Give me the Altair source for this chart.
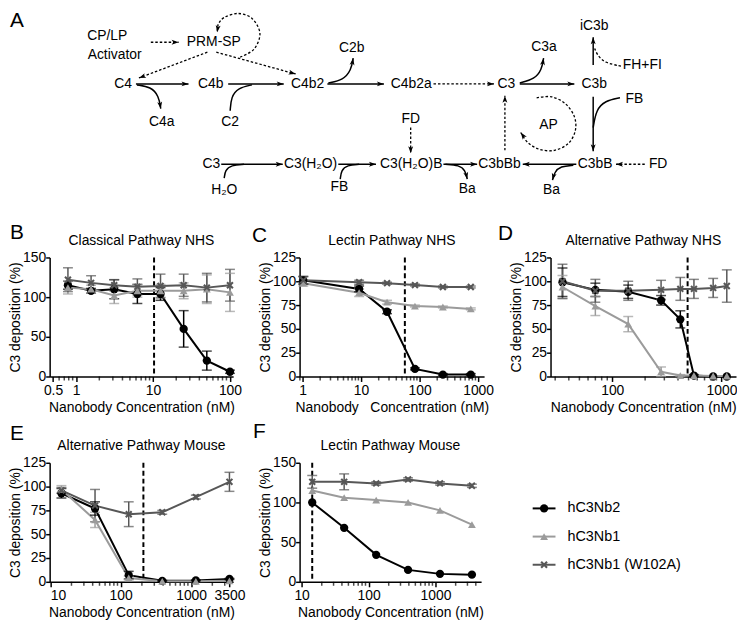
import math
import altair as alt
import pandas as pd

FONT = "Liberation Sans"
INK = "#000000"

# ---------------- series styling ----------------
SERIES = ["hC3Nb2", "hC3Nb1", "hC3Nb1 (W102A)"]
SERIES_COLORS = ["#000000", "#9b9b9b", "#575757"]
X_MARK = "M-1,-0.6L-0.6,-1L0,-0.4L0.6,-1L1,-0.6L0.4,0L1,0.6L0.6,1L0,0.4L-0.6,1L-1,0.6L-0.4,0Z"
SERIES_SHAPES = ["circle", "triangle-up", X_MARK]
SERIES_SIZES = [70, 55, 90]

# ---------------- panel data ----------------
B_X = [0.78125, 1.5625, 3.125, 6.25, 12.5, 25, 50, 100]
B_NB2 = [115, 108, 110, 104, 104, 60, 20, 6]
B_NB2_ERR = [5, 3, 12, 12, 8, 23, 12, 2]
B_NB1 = [112, 110, 102, 108, 108, 108, 110, 106]
B_NB1_ERR = [8, 5, 10, 8, 8, 10, 18, 24]
B_W = [122, 118, 115, 113, 114, 115, 112, 115]
B_W_ERR = [15, 9, 7, 10, 15, 14, 18, 20]
B_VLINE = 10.3

C_X = [1.03, 9.26, 27.8, 83.3, 250, 750]
C_NB2 = [101, 92, 68, 8, 2, 2]
C_NB2_ERR = [4, 3, 2, 1, 1, 1]
C_NB1 = [98, 88, 78, 74, 73, 71]
C_NB1_ERR = [3, 4, 2, 1, 1, 1]
C_W = [101, 99, 98, 96, 94, 94]
C_W_ERR = [4, 2, 1, 1, 1, 1]
C_VLINE = 56

D_X = [35, 70, 140, 280, 420, 560, 840, 1120]
D_NB2 = [99, 91, 89, 80, 60, 1, 0, 0]
D_NB2_ERR = [15, 7, 7, 5, 9, 1, 0, 0]
D_NB1 = [94, 74, 55, 5, 1, 1, 0.5, 0.5]
D_NB1_ERR = [12, 10, 8, 5, 1, 0, 0, 0]
D_W = [100, 90, 90, 91, 92, 92, 93, 95]
D_W_ERR = [18, 12, 10, 10, 12, 10, 10, 17]
D_VLINE = 490

E_X = [14.4, 43.2, 130, 389, 1167, 3500]
E_NB2 = [93, 77, 7, 1, 1.5, 3]
E_NB2_ERR = [5, 7, 4, 0.5, 0.5, 0.5]
E_NB1 = [97, 65, 4, 0.5, 0.5, 1]
E_NB1_ERR = [4, 8, 2, 0, 0, 0]
E_W = [96, 80, 71, 73, 89, 105]
E_W_ERR = [3, 17, 13, 2, 2, 10]
E_VLINE = 210

F_X = [14.4, 43.2, 130, 389, 1167, 3500]
F_NB2 = [100, 68, 34, 15, 10, 9]
F_NB2_ERR = [0, 0, 0, 0, 0, 0]
F_NB1 = [115, 106, 103, 100, 90, 72]
F_NB1_ERR = [0, 0, 0, 0, 0, 0]
F_W = [126, 126, 124, 129, 124, 121]
F_W_ERR = [8, 10, 2, 2, 2, 2]
F_VLINE = 14.4

XTITLE = "Nanobody Concentration (nM)"
XTITLE_C = "Nanobody\u00a0\u00a0\u00a0Concentration (nM)"
YTITLE = "C3 deposition (%)"

# ---------------- diagram data (diagram coordinates) ----------------
NODE_TEXT = ["CP/LP", "Activator", "PRM-SP", "C4", "C4b", "C4a", "C2", "C4b2", "C2b",
             "C4b2a", "C3", "C3a", "C3b", "iC3b", "FH+FI", "FB", "AP", "FD",
             "C3", "H\u2082O", "C3(H\u2082O)", "FB", "C3(H\u2082O)B", "Ba", "C3bBb",
             "C3bB", "FD", "Ba"]
NODE_X = [104, 111.5, 211.5, 120, 208.5, 159, 228, 306, 350.5,
          410.5, 506.5, 544.5, 595, 595, 643.5, 635.5, 549, 410,
          209, 222, 309, 338, 410.5, 467, 499.5,
          596, 659.5, 552]
NODE_Y = [33, 52, 39, 81, 81, 119, 119, 81, 45,
          81, 81, 44, 81, 23, 62, 96, 122, 116,
          162, 188, 162, 185, 162, 187, 162,
          162, 162, 188]

STRAIGHT_SOLID = [(133, 81, 186, 81), (226, 81, 282, 81), (326, 81, 383, 81),
                  (520, 81, 575, 81), (594, 62, 594, 34), (594, 94, 594, 149),
                  (577, 162, 523, 162), (219, 162, 281, 162), (337, 162, 375, 162),
                  (443, 162, 477, 162)]
STRAIGHT_DOTTED = [(148, 39, 176, 39), (205, 49, 136, 75), (214, 49, 294, 71),
                   (433, 81, 494, 81), (410, 125, 410, 151), (505, 148, 505, 93),
                   (646, 162, 617, 162)]

CURVES_SOLID = [
    [(134, 82), (148, 84), (156, 93), (158, 106)],
    [(228, 108), (229, 94), (236, 85), (250, 82)],
    [(327, 80), (342, 77), (350, 67), (352, 55)],
    [(520, 80), (535, 76), (542, 67), (544, 55)],
    [(621, 95), (606, 98), (597, 107), (594, 125)],
    [(445, 162), (459, 163), (465, 168), (467, 177)],
    [(574, 163), (561, 164), (555, 170), (553, 178)],
    [(222, 176), (223, 168), (229, 163), (242, 162)],
    [(339, 177), (340, 168), (346, 163), (358, 162)],
]
CURVES_SOLID_HEAD = [True, False, True, True, False, True, True, False, False]
CURVES_DOTTED = [[(622, 63), (606, 60), (598, 52), (595, 44)]]
CURVES_DOTTED_HEAD = [False]
LOOPS_DOTTED = [
    [(238, 54), (252, 46), (258, 30), (250, 15), (236, 10), (222, 14), (216, 21), (215, 29)],
    [(537, 95), (552, 94), (566, 101), (575, 114), (576, 128), (569, 141), (555, 148),
     (540, 147), (528, 140), (521, 130)],
]
LOOPS_DOTTED_HEAD = [True, True]

ARROW_PATH = "M0,-1L0.7,1L0,0.5L-0.7,1Z"
ARROW_SIZE = 50

# ---------------- layout ----------------
COL_W = [185, 186, 187]
COL_GAP = 67
ROW_GAP = 87
ROW_H = 120
DIAG_X0 = 46
DIAG_Y0, DIAG_H = 8, 161


def minor_ticks(lo, hi, majors):
    out = []
    k = math.floor(math.log10(lo))
    while 10 ** k <= hi:
        for m in range(1, 10):
            v = round(m * 10 ** k, 6)
            if lo <= v <= hi and all(abs(v - M) / M > 1e-6 for M in majors):
                out.append(v)
        k += 1
    return out


def make_panel(title, letter, letter_dx, letter_dy, xv, ys, errs, vline,
               xdomain, xmajor, ydomain, yticks, width, xtitle):
    rows = []
    for s, yl, el in zip(SERIES, ys, errs):
        for x, y, e in zip(xv, yl, el):
            rows.append({"series": s, "x": x, "y": y, "lo": y - e, "hi": y + e, "err": e})
    df = pd.DataFrame(rows)
    xs = alt.Scale(type="log", domain=xdomain, nice=False)
    ysc = alt.Scale(domain=ydomain, nice=False)
    xaxis = alt.Axis(values=xmajor, format="~g", tickSize=5, labelPadding=2,
                     title=xtitle, titlePadding=3, grid=False)
    yaxis = alt.Axis(values=yticks, tickSize=4, labelPadding=0, title=YTITLE,
                     titlePadding=0, grid=False)
    color = alt.Color("series:N", scale=alt.Scale(domain=SERIES, range=SERIES_COLORS), legend=None)
    shape = alt.Shape("series:N", scale=alt.Scale(domain=SERIES, range=SERIES_SHAPES), legend=None)
    size = alt.Size("series:N", scale=alt.Scale(domain=SERIES, range=SERIES_SIZES), legend=None)

    def X(f):
        return alt.X(f, type="quantitative", scale=xs, axis=xaxis)

    def Y(f):
        return alt.Y(f, type="quantitative", scale=ysc, axis=yaxis)

    base = alt.Chart(df)
    minors = minor_ticks(xdomain[0], xdomain[1], xmajor)
    minor = alt.Chart(pd.DataFrame({"m": minors})).mark_tick(
        orient="vertical", size=4, thickness=1.5, color=INK).encode(
        x=X("m"), y=alt.value(ROW_H + 2))
    vrule = alt.Chart(pd.DataFrame({"v": [vline]})).mark_rule(
        strokeDash=[5, 3], strokeWidth=2, color=INK).encode(x=X("v"))
    lines = base.mark_line(strokeWidth=2).encode(x=X("x"), y=Y("y"), color=color, detail="series:N")
    eb = base.transform_filter("datum.err > 0")
    bars = eb.mark_rule(strokeWidth=1.5).encode(x=X("x"), y=Y("lo"), y2="hi:Q", color=color)
    cap_lo = eb.mark_tick(orient="horizontal", size=10, thickness=1.5).encode(
        x=X("x"), y=Y("lo"), color=color)
    cap_hi = eb.mark_tick(orient="horizontal", size=10, thickness=1.5).encode(
        x=X("x"), y=Y("hi"), color=color)
    pts = base.mark_point(filled=True, opacity=1).encode(
        x=X("x"), y=Y("y"), color=color, shape=shape, size=size)
    lab = alt.Chart(pd.DataFrame({"t": [letter]})).mark_text(
        fontSize=21, font=FONT, align="left", baseline="alphabetic", color=INK).encode(
        text="t:N", x=alt.value(letter_dx), y=alt.value(letter_dy))
    ttl = alt.Chart(pd.DataFrame({"t": [title]})).mark_text(
        fontSize=14, font=FONT, align="center", baseline="alphabetic", color=INK).encode(
        text="t:N", x=alt.value(width / 2), y=alt.value(-13))
    return alt.layer(minor, vrule, lines, bars, cap_lo, cap_hi, pts, lab, ttl).properties(
        width=width, height=ROW_H)


# ---------------- diagram ----------------
def head_row(tip, prev):
    dx, dy = tip[0] - prev[0], tip[1] - prev[1]
    n = math.hypot(dx, dy)
    ux, uy = dx / n, dy / n
    half = math.sqrt(ARROW_SIZE) / 2
    ang = math.degrees(math.atan2(dx, -dy)) % 360
    return {"x": tip[0] - ux * half, "y": tip[1] - uy * half, "angle": ang}


dxs = alt.Scale(domain=[DIAG_X0, DIAG_X0 + COL_W[0]], nice=False, zero=False)
dys = alt.Scale(domain=[DIAG_Y0, DIAG_Y0 + DIAG_H], nice=False, zero=False, reverse=True)

seg_rows, head_rows = [], []
for style, segs in (("solid", STRAIGHT_SOLID), ("dotted", STRAIGHT_DOTTED)):
    for (x1, y1, x2, y2) in segs:
        seg_rows.append({"x": x1, "y": y1, "x2": x2, "y2": y2, "style": style})
        head_rows.append(head_row((x2, y2), (x1, y1)))
seg_df = pd.DataFrame(seg_rows)

curve_rows = []
cid = 0
for kind, curves, heads in (("solid", CURVES_SOLID, CURVES_SOLID_HEAD),
                            ("dotted", CURVES_DOTTED, CURVES_DOTTED_HEAD),
                            ("loop", LOOPS_DOTTED, LOOPS_DOTTED_HEAD)):
    for pts, hd in zip(curves, heads):
        for k, (x, y) in enumerate(pts):
            curve_rows.append({"id": cid, "k": k, "x": x, "y": y, "kind": kind})
        if hd:
            head_rows.append(head_row(pts[-1], pts[-2]))
        cid += 1
curve_df = pd.DataFrame(curve_rows)
head_df = pd.DataFrame(head_rows)
node_df = pd.DataFrame({"t": NODE_TEXT, "x": NODE_X, "y": NODE_Y})

DX = alt.X("x:Q", scale=dxs, axis=None)
DY = alt.Y("y:Q", scale=dys, axis=None)

seg_solid = alt.Chart(seg_df).transform_filter("datum.style == 'solid'").mark_rule(
    strokeWidth=1.5, color=INK).encode(x=DX, y=DY, x2="x2:Q", y2="y2:Q")
seg_dot = alt.Chart(seg_df).transform_filter("datum.style == 'dotted'").mark_rule(
    strokeWidth=1.3, color=INK, strokeDash=[2.5, 2]).encode(x=DX, y=DY, x2="x2:Q", y2="y2:Q")
cur_solid = alt.Chart(curve_df).transform_filter("datum.kind == 'solid'").mark_line(
    strokeWidth=1.5, color=INK, interpolate="basis").encode(x=DX, y=DY, detail="id:N", order="k:Q")
cur_dot = alt.Chart(curve_df).transform_filter("datum.kind == 'dotted'").mark_line(
    strokeWidth=1.3, color=INK, interpolate="basis", strokeDash=[2.5, 2]).encode(
    x=DX, y=DY, detail="id:N", order="k:Q")
cur_loop = alt.Chart(curve_df).transform_filter("datum.kind == 'loop'").mark_line(
    strokeWidth=1.3, color=INK, interpolate="cardinal", strokeDash=[2.5, 2]).encode(
    x=DX, y=DY, detail="id:N", order="k:Q")
heads = alt.Chart(head_df).mark_point(shape=ARROW_PATH, filled=True, size=ARROW_SIZE,
                                      color=INK, opacity=1).encode(
    x=DX, y=DY, angle=alt.Angle("angle:Q", scale=None))
nodes = alt.Chart(node_df).mark_text(fontSize=14, font=FONT, color=INK).encode(
    x=DX, y=DY, text="t:N")
letter_a = alt.Chart(pd.DataFrame({"t": ["A"], "x": [6], "y": [7]})).mark_text(
    fontSize=21, font=FONT, align="left", baseline="top", color=INK).encode(x=DX, y=DY, text="t:N")

diagram = alt.layer(seg_solid, seg_dot, cur_solid, cur_dot, cur_loop, heads, nodes,
                    letter_a).properties(width=COL_W[0], height=DIAG_H)


def spacer():
    return alt.Chart(pd.DataFrame({"t": [""]})).mark_text().encode(
        text="t:N").properties(width=10, height=10)


# ---------------- panels ----------------
pB = make_panel("Classical Pathway NHS", "B", -40, -19, B_X, [B_NB2, B_NB1, B_W],
                [B_NB2_ERR, B_NB1_ERR, B_W_ERR], B_VLINE, [0.452, 110], [0.5, 1, 10, 100],
                [0, 150], [0, 50, 100, 150], COL_W[0], XTITLE)
pC = make_panel("Lectin Pathway NHS", "C", -48, -16, C_X, [C_NB2, C_NB1, C_W],
                [C_NB2_ERR, C_NB1_ERR, C_W_ERR], C_VLINE, [0.89, 1265], [1, 10, 100, 1000],
                [0, 125], [0, 25, 50, 75, 100, 125], COL_W[1], XTITLE_C)
pD = make_panel("Alternative Pathway NHS", "D", -53, -18, D_X, [D_NB2, D_NB1, D_W],
                [D_NB2_ERR, D_NB1_ERR, D_W_ERR], D_VLINE, [27.2, 1360], [100, 1000],
                [0, 125], [0, 25, 50, 75, 100, 125], COL_W[2], XTITLE)
pE = make_panel("Alternative Pathway Mouse", "E", -40, -23, E_X, [E_NB2, E_NB1, E_W],
                [E_NB2_ERR, E_NB1_ERR, E_W_ERR], E_VLINE, [9.8, 3950], [10, 100, 1000, 3500],
                [0, 125], [0, 25, 50, 75, 100, 125], COL_W[0], XTITLE)
pF = make_panel("Lectin Pathway Mouse", "F", -47, -25, F_X, [F_NB2, F_NB1, F_W],
                [F_NB2_ERR, F_NB1_ERR, F_W_ERR], F_VLINE, [9.33, 4800], [10, 100, 1000],
                [0, 150], [0, 50, 100, 150], 183, XTITLE)

# ---------------- legend panel ----------------
LEG_X0 = DIAG_X0 + COL_W[0] + COL_W[1] + 2 * COL_GAP
LEG_Y0 = 463
leg_df = pd.DataFrame({"series": SERIES})
leg_df["i"] = range(len(SERIES))
leg_df["y"] = 509 + 28.4 * leg_df["i"]
leg_df["xa"] = 533
leg_df["xb"] = 556
leg_df["xm"] = 544.5
leg_df["xt"] = 568
lxs = alt.Scale(domain=[LEG_X0, LEG_X0 + COL_W[2]], nice=False, zero=False)
lys = alt.Scale(domain=[LEG_Y0, LEG_Y0 + ROW_H], nice=False, zero=False, reverse=True)
lcolor = alt.Color("series:N", scale=alt.Scale(domain=SERIES, range=SERIES_COLORS), legend=None)
lshape = alt.Shape("series:N", scale=alt.Scale(domain=SERIES, range=SERIES_SHAPES), legend=None)
lsize = alt.Size("series:N", scale=alt.Scale(domain=SERIES, range=SERIES_SIZES), legend=None)
lbase = alt.Chart(leg_df)
leg_line = lbase.mark_rule(strokeWidth=2).encode(
    x=alt.X("xa:Q", scale=lxs, axis=None), x2="xb:Q", y=alt.Y("y:Q", scale=lys, axis=None), color=lcolor)
leg_pt = lbase.mark_point(filled=True, opacity=1).encode(
    x=alt.X("xm:Q", scale=lxs, axis=None), y=alt.Y("y:Q", scale=lys, axis=None),
    color=lcolor, shape=lshape, size=lsize)
leg_txt = lbase.mark_text(fontSize=14.5, font=FONT, align="left", baseline="middle", color=INK).encode(
    x=alt.X("xt:Q", scale=lxs, axis=None), y=alt.Y("y:Q", scale=lys, axis=None), text="series:N")
legend = alt.layer(leg_line, leg_pt, leg_txt).properties(width=COL_W[2], height=ROW_H)

chart = alt.concat(diagram, spacer(), spacer(), pB, pC, pD, pE, pF, legend,
                   columns=3, spacing={"row": ROW_GAP, "column": COL_GAP},
                   bounds="flush", padding=0).configure_view(
    stroke=None).configure_axis(
    domainColor=INK, domainWidth=1.5, tickColor=INK, tickWidth=1.5, labelColor=INK,
    titleColor=INK, labelFont=FONT, titleFont=FONT, labelFontSize=14, titleFontSize=14,
    titleFontWeight="normal", grid=False)

chart.save("out.html", embed_options={"renderer": "svg", "actions": False})
